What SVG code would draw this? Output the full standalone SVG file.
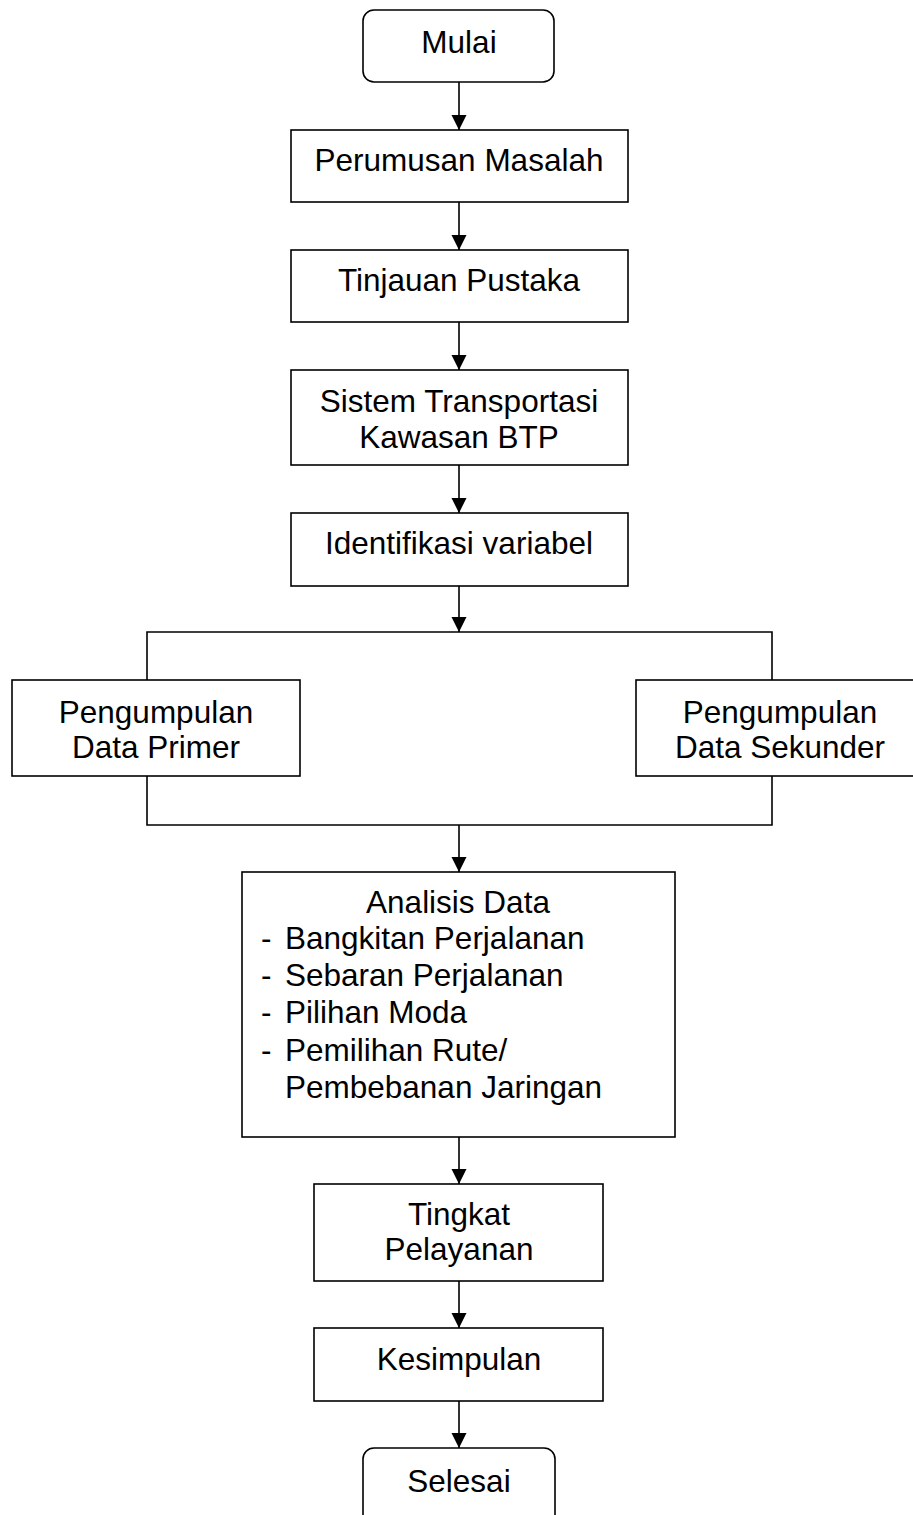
<svg xmlns="http://www.w3.org/2000/svg" width="913" height="1515" viewBox="0 0 913 1515">
<style>
.box{fill:#fff;stroke:#000;stroke-width:1.6}
.ln{fill:none;stroke:#000;stroke-width:1.6}
text{font-family:"Liberation Sans",Arial,sans-serif;font-size:31.5px;fill:#000}
.c{text-anchor:middle}
</style>
<defs>
<marker id="ah" markerUnits="userSpaceOnUse" markerWidth="16" markerHeight="16" viewBox="0 0 16 16" refX="15" refY="8" orient="auto">
<path d="M0,0.5 L15,8 L0,15.5 Z" fill="#000"/>
</marker>
</defs>
<rect width="913" height="1515" fill="#fff"/>
<g id="connectors">
<line class="ln" x1="459" y1="82" x2="459" y2="130" marker-end="url(#ah)"/>
<line class="ln" x1="459" y1="202" x2="459" y2="250" marker-end="url(#ah)"/>
<line class="ln" x1="459" y1="322" x2="459" y2="370" marker-end="url(#ah)"/>
<line class="ln" x1="459" y1="465" x2="459" y2="513" marker-end="url(#ah)"/>
<line class="ln" x1="459" y1="586" x2="459" y2="632" marker-end="url(#ah)"/>
<path class="ln" d="M147,680 V632 H772 V680"/>
<path class="ln" d="M147,776 V825 H772 V776"/>
<line class="ln" x1="459" y1="825" x2="459" y2="872" marker-end="url(#ah)"/>
<line class="ln" x1="459" y1="1137" x2="459" y2="1184" marker-end="url(#ah)"/>
<line class="ln" x1="459" y1="1281" x2="459" y2="1328" marker-end="url(#ah)"/>
<line class="ln" x1="459" y1="1401" x2="459" y2="1448" marker-end="url(#ah)"/>
</g>
<g id="mulai">
<rect class="box" x="363" y="10" width="191" height="72" rx="11"/>
<text class="c" x="459" y="53">Mulai</text>
</g>
<g id="perumusan">
<rect class="box" x="291" y="130" width="337" height="72"/>
<text class="c" x="459" y="171">Perumusan Masalah</text>
</g>
<g id="tinjauan">
<rect class="box" x="291" y="250" width="337" height="72"/>
<text class="c" x="459" y="291">Tinjauan Pustaka</text>
</g>
<g id="sistem">
<rect class="box" x="291" y="370" width="337" height="95"/>
<text class="c" x="459" y="412">Sistem Transportasi</text>
<text class="c" x="459" y="448">Kawasan BTP</text>
</g>
<g id="identifikasi">
<rect class="box" x="291" y="513" width="337" height="73"/>
<text class="c" x="459" y="554">Identifikasi variabel</text>
</g>
<g id="primer">
<rect class="box" x="12" y="680" width="288" height="96"/>
<text class="c" x="156" y="723">Pengumpulan</text>
<text class="c" x="156" y="758">Data Primer</text>
</g>
<g id="sekunder">
<rect class="box" x="636" y="680" width="288" height="96"/>
<text class="c" x="780" y="723">Pengumpulan</text>
<text class="c" x="780" y="758">Data Sekunder</text>
</g>
<g id="analisis">
<rect class="box" x="242" y="872" width="433" height="265"/>
<text class="c" x="458" y="913">Analisis Data</text>
<text x="261" y="949">-</text><text x="285" y="949">Bangkitan Perjalanan</text>
<text x="261" y="986">-</text><text x="285" y="986">Sebaran Perjalanan</text>
<text x="261" y="1023">-</text><text x="285" y="1023">Pilihan Moda</text>
<text x="261" y="1061">-</text><text x="285" y="1061">Pemilihan Rute/</text>
<text x="285" y="1098">Pembebanan Jaringan</text>
</g>
<g id="tingkat">
<rect class="box" x="314" y="1184" width="289" height="97"/>
<text class="c" x="459" y="1225">Tingkat</text>
<text class="c" x="459" y="1260">Pelayanan</text>
</g>
<g id="kesimpulan">
<rect class="box" x="314" y="1328" width="289" height="73"/>
<text class="c" x="459" y="1370">Kesimpulan</text>
</g>
<g id="selesai">
<rect class="box" x="363" y="1448" width="192" height="80" rx="11"/>
<text class="c" x="459" y="1492">Selesai</text>
</g>
</svg>
